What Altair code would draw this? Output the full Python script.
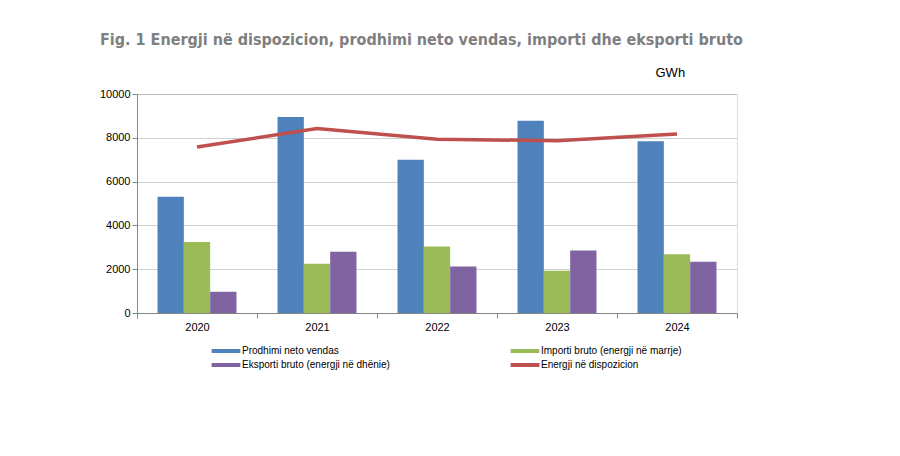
import altair as alt
import pandas as pd

years = ["2020", "2021", "2022", "2023", "2024"]
prodhimi = [5310, 8950, 7000, 8780, 7840]
importi = [3240, 2250, 3040, 1930, 2680]
eksporti = [970, 2800, 2120, 2850, 2340]
disponim = [7580, 8420, 7930, 7870, 8170]

series_names = [
    "Prodhimi neto vendas",
    "Importi bruto (energji në marrje)",
    "Eksporti bruto (energji në dhënie)",
    "Energji në dispozicion",
]
series_colors = ["#4F81BD", "#9BBB59", "#8064A2", "#C0504D"]

rows = []
for name, vals in zip(series_names, [prodhimi, importi, eksporti, disponim]):
    for y, v in zip(years, vals):
        rows.append({"year": y, "series": name, "value": v})
df = pd.DataFrame(rows)

FONT = "Liberation Sans"
GRAY = "#868686"

color = alt.Color(
    "series:N",
    scale=alt.Scale(domain=series_names, range=series_colors),
    legend=alt.Legend(
        title=None,
        orient="none",
        direction="horizontal",
        legendX=83,
        legendY=251,
        columns=2,
        columnPadding=120,
        rowPadding=3,
        symbolType="M-2.4,-0.33H2.4V0.33H-2.4Z",
        symbolSize=144,
        symbolStrokeWidth=0,
        labelFont=FONT,
        labelFontSize=10,
        labelColor="#000000",
        labelOffset=10,
        labelLimit=400,
    ),
)

x = alt.X(
    "year:N",
    sort=years,
    scale=alt.Scale(paddingInner=0, paddingOuter=0),
    axis=alt.Axis(
        title=None,
        labelAngle=0,
        tickBand="extent",
        tickSize=5,
        tickColor=GRAY,
        domainColor=GRAY,
        labelFont=FONT,
        labelFontSize=11,
        labelColor="#000000",
        labelPadding=3,
        grid=False,
    ),
)

y = alt.Y(
    "value:Q",
    scale=alt.Scale(domain=[0, 10000], nice=False),
    axis=alt.Axis(
        values=[0, 2000, 4000, 6000, 8000, 10000],
        format="d",
        tickSize=5,
        tickColor=GRAY,
        domainColor=GRAY,
        gridColor="#a0a0a0",
        gridDash=[1, 1],
        labelFont=FONT,
        labelFontSize=11,
        labelColor="#000000",
        labelPadding=2,
        title="GWh",
        titleAngle=0,
        titleX=518,
        titleY=-22,
        titleAlign="left",
        titleBaseline="middle",
        titleFont=FONT,
        titleFontSize=13,
        titleFontWeight="normal",
        titleColor="#000000",
    ),
)

bars = (
    alt.Chart(df)
    .transform_filter(alt.datum.series != "Energji në dispozicion")
    .mark_bar()
    .encode(
        x=x,
        y=y,
        xOffset=alt.XOffset(
            "series:N",
            sort=series_names[:3],
            scale=alt.Scale(paddingInner=0, paddingOuter=0.78),
        ),
        color=color,
    )
)

line = (
    alt.Chart(df)
    .transform_filter(alt.datum.series == "Energji në dispozicion")
    .mark_line(strokeWidth=3.5)
    .encode(x=x, y=y, color=color)
)

chart = (
    alt.layer(bars, line)
    .properties(
        width=600,
        height=219,
        autosize=alt.AutoSizeParams(type="none"),
        padding={"left": 129, "top": 86, "right": 155, "bottom": 127},
        title=alt.Title(
            "Fig. 1 Energji në dispozicion, prodhimi neto vendas, importi dhe eksporti bruto",
            anchor="start",
            frame="group",
            dx=-37,
            offset=18,
            font="DejaVu Sans Condensed, Liberation Sans",
            fontSize=16,
            fontWeight="bold",
            color="#7F7F7F",
        ),
    )
    .configure_view(stroke=None)
    .configure(background="#FFFFFF")
)

chart.save("out.html", embed_options={"renderer": "svg", "actions": False})
